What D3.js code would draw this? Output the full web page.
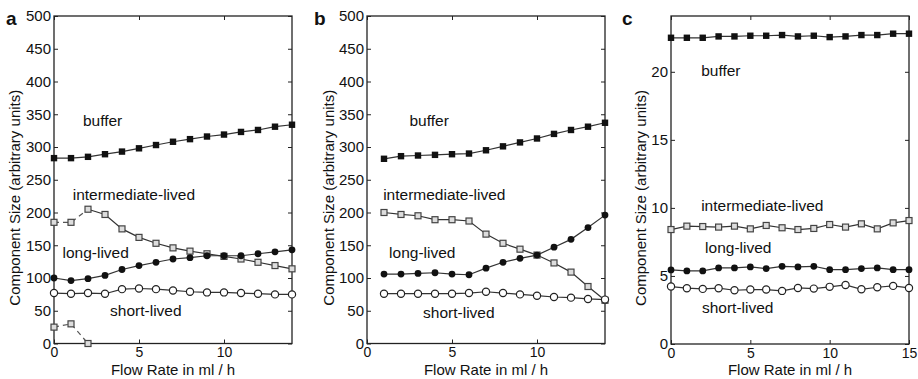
<!DOCTYPE html>
<html><head><meta charset="utf-8">
<script src="https://cdn.jsdelivr.net/npm/d3@7"></script>
<style>
body{margin:0;background:#fff;}
svg{display:block;font-family:"Liberation Sans",Arial,sans-serif;}
</style></head>
<body>
<svg id="chart" width="918" height="379"></svg>
<script>
// ---- Panel a data ----
const aX = [0,1,2,3,4,5,6,7,8,9,10,11,12,13,14];
const aBuffer = [283,283,285,289,293,298,303,308,312,316,319,323,326,331,334];
const aIntermediate = [185,185,205,197,175,162,153,146,141,137,133,129,124,119,114];
const aLong = [100,96,99,104,113,119,124,129,131,134,134,134,137,140,143];
const aShort = [77,76,77,76,83,84,83,81,79,78,78,77,76,75,75];
const aExtraX = [0,1,2];
const aExtra = [25,30,0];
// ---- Panel b data ----
const bX = [1,2,3,4,5,6,7,8,9,10,11,12,13,14];
const bBuffer = [282,286,287,288,289,290,295,301,307,313,320,326,331,337];
const bIntermediate = [200,197,195,189,189,187,167,153,144,135,123,109,87,66];
const bLong = [106,106,107,108,106,105,115,124,130,135,147,159,177,196];
const bShort = [76,76,76,76,76,77,79,77,75,73,71,70,68,67];
// ---- Panel c data ----
const cX = [0,1,2,3,4,5,6,7,8,9,10,11,12,13,14,15];
const cBuffer = [22.5,22.5,22.5,22.6,22.6,22.65,22.65,22.7,22.6,22.65,22.55,22.6,22.7,22.7,22.8,22.8];
const cIntermediate = [8.41,8.66,8.63,8.59,8.66,8.46,8.71,8.54,8.41,8.49,8.78,8.59,8.83,8.46,8.9,9.07];
const cLong = [5.44,5.37,5.37,5.59,5.59,5.66,5.54,5.71,5.66,5.71,5.46,5.46,5.54,5.59,5.46,5.46];
const cShort = [4.22,4.1,4.05,4.1,3.95,4.0,4.0,3.9,4.12,4.07,4.2,4.34,4.02,4.17,4.27,4.12];

const xTicksAB = [0,5,10];
const xTicksC = [0,5,10,15];
const yTicksAB = [0,50,100,150,200,250,300,350,400,450,500];
const yTicksC = [0,5,10,15,20];
const seriesNames = ["buffer","intermediate-lived","long-lived","short-lived"];
const xTitle = "Flow Rate in ml / h";
const yTitle = "Component Size (arbitrary units)";

const svg = d3.select("#chart");
const AX = "#222";

function panel(opt){
  const g = svg.append("g");
  const x = d3.scaleLinear().domain(opt.xDomain).range([opt.left, opt.right]);
  const y = d3.scaleLinear().domain(opt.yDomain).range([opt.bottom, opt.top]);
  g.append("rect").attr("x",opt.left).attr("y",opt.top)
    .attr("width",opt.right-opt.left).attr("height",opt.bottom-opt.top)
    .attr("fill","none").attr("stroke",AX).attr("stroke-width",1.3);
  const ax = g.append("g").attr("transform",`translate(0,${opt.bottom})`)
    .call(d3.axisBottom(x).tickValues(opt.xTicks).tickSize(-4).tickPadding(4).tickFormat(d3.format("d")));
  const axT = g.append("g").attr("transform",`translate(0,${opt.top})`)
    .call(d3.axisTop(x).tickValues(opt.xTicks).tickSize(-4).tickFormat(""));
  const ay = g.append("g").attr("transform",`translate(${opt.left},0)`)
    .call(d3.axisLeft(y).tickValues(opt.yTicks).tickSize(-4).tickPadding(3).tickFormat(d3.format("d")));
  const ayR = g.append("g").attr("transform",`translate(${opt.right},0)`)
    .call(d3.axisRight(y).tickValues(opt.yTicks).tickSize(-4).tickFormat(""));
  [ax,axT,ay,ayR].forEach(s=>{
    s.select(".domain").remove();
    s.selectAll(".tick line").attr("stroke",AX).attr("stroke-width",1);
    s.selectAll("text").attr("fill","#111").attr("font-size",15).attr("font-family","Liberation Sans, Arial, sans-serif");
  });
  ax.selectAll("text").attr("font-size",14);
  g.append("text").attr("x",(opt.left+opt.right)/2).attr("y",375)
    .attr("text-anchor","middle").attr("font-size",15).attr("fill","#111").text(xTitle);
  g.append("text").attr("transform",`translate(${opt.yTitleX},${(opt.top+opt.bottom)/2+18}) rotate(-90)`)
    .attr("text-anchor","middle").attr("font-size",15).attr("fill","#111").text(yTitle);
  g.append("text").attr("x",opt.letterX).attr("y",25).attr("font-size",19)
    .attr("font-weight","bold").attr("fill","#111").text(opt.letter);

  const line = d3.line().x(d=>x(d[0])).y(d=>y(d[1]));
  function series(xs, ys, dashed){
    const pts = xs.map((v,i)=>[v,ys[i]]);
    g.append("path").datum(pts).attr("d",line).attr("fill","none")
      .attr("stroke", dashed ? "#555" : "#333").attr("stroke-width",1.2)
      .attr("stroke-dasharray", dashed ? "5,4" : null);
  }
  function markers(pts, marker){
    const mg = g.append("g");
    pts.forEach(p=>{
      const cx = x(p[0]), cy = y(p[1]);
      if(marker==="fsq") mg.append("rect").attr("x",cx-3.2).attr("y",cy-3.2).attr("width",6.4).attr("height",6.4).attr("fill","#111");
      if(marker==="osq") mg.append("rect").attr("x",cx-3).attr("y",cy-3).attr("width",6).attr("height",6).attr("fill","#ddd").attr("stroke","#444").attr("stroke-width",1.2);
      if(marker==="fci") mg.append("circle").attr("cx",cx).attr("cy",cy).attr("r",3.4).attr("fill","#111");
      if(marker==="oci") mg.append("circle").attr("cx",cx).attr("cy",cy).attr("r",3.6).attr("fill","#fff").attr("stroke","#222").attr("stroke-width",1.2);
    });
  }
  opt.series.forEach(s=>{
    if(s.dashUntil!==undefined){
      const k = s.xs.indexOf(s.dashUntil);
      series(s.xs.slice(0,k+1), s.ys.slice(0,k+1), true);
      series(s.xs.slice(k), s.ys.slice(k), false);
    } else {
      series(s.xs, s.ys, !!s.dashed);
    }
    markers(s.xs.map((v,i)=>[v,s.ys[i]]), s.marker);
  });
  opt.labels.forEach((l,i)=>{
    g.append("text").attr("x",x(l[0])).attr("y",y(l[1])).attr("font-size",15.5)
      .attr("fill","#111").text(seriesNames[i]);
  });
}

panel({left:54,right:292,top:16,bottom:343.5,xDomain:[0,14],yDomain:[0,500],
  xTicks:xTicksAB,yTicks:yTicksAB,yTitleX:20,letter:"a",letterX:6,
  series:[
    {xs:aX,ys:aBuffer,marker:"fsq"},
    {xs:aX,ys:aIntermediate,marker:"osq",dashUntil:2},
    {xs:aX,ys:aLong,marker:"fci"},
    {xs:aX,ys:aShort,marker:"oci"},
    {xs:aExtraX,ys:aExtra,marker:"osq",dashed:true}
  ],
  labels:[[1.7,332],[1.1,219],[0.5,131],[3.3,42]]});

panel({left:367,right:605,top:16,bottom:343.5,xDomain:[0,14],yDomain:[0,500],
  xTicks:xTicksAB,yTicks:yTicksAB,yTitleX:334,letter:"b",letterX:314,
  series:[
    {xs:bX,ys:bBuffer,marker:"fsq"},
    {xs:bX,ys:bIntermediate,marker:"osq"},
    {xs:bX,ys:bLong,marker:"fci"},
    {xs:bX,ys:bShort,marker:"oci"}
  ],
  labels:[[2.5,332],[0.95,219],[1.3,131],[3.3,39]]});

panel({left:671,right:909,top:16,bottom:344,xDomain:[0,15],yDomain:[0,24.1],
  xTicks:xTicksC,yTicks:yTicksC,yTitleX:646,letter:"c",letterX:622,
  series:[
    {xs:cX,ys:cBuffer,marker:"fsq"},
    {xs:cX,ys:cIntermediate,marker:"osq"},
    {xs:cX,ys:cLong,marker:"fci"},
    {xs:cX,ys:cShort,marker:"oci"}
  ],
  labels:[[1.9,19.7],[1.9,9.8],[2.15,6.7],[1.95,2.3]]});
</script>
</body></html>
